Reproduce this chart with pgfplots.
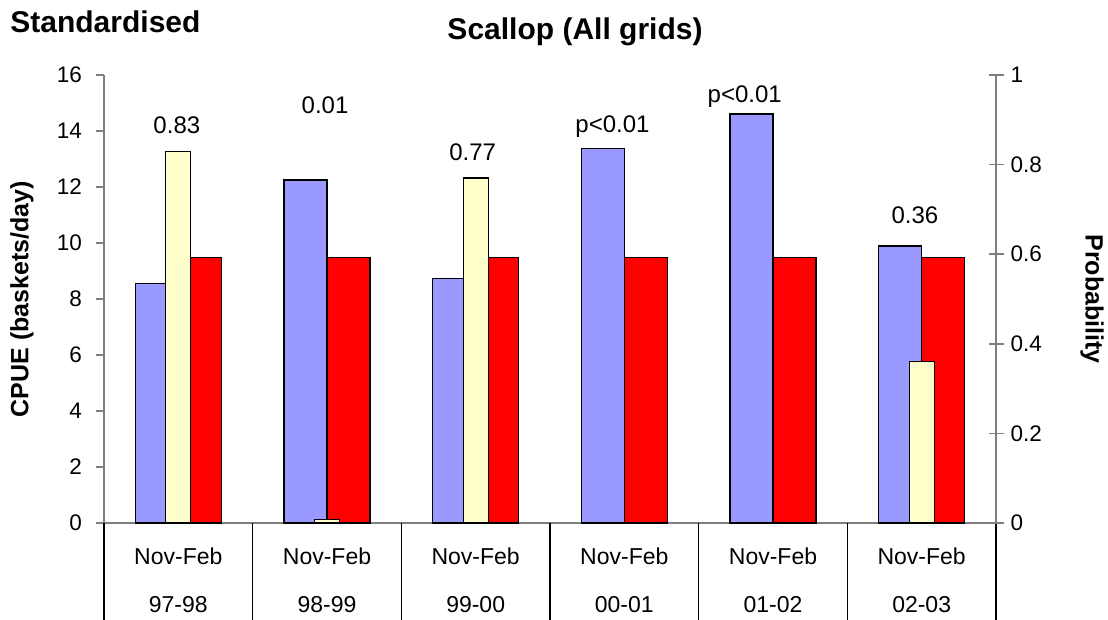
\documentclass[border=0pt]{standalone}
\usepackage{pgfplots}
\pgfplotsset{compat=1.18}
\usepackage{fontspec}
\setmainfont{Liberation Sans}

\definecolor{cpue}{HTML}{9999FF}
\definecolor{prob}{HTML}{FFFFCC}
\definecolor{refbar}{HTML}{FF0000}
\definecolor{axgray}{HTML}{7F7F7F}

\begin{document}
\begin{tikzpicture}
\path[use as bounding box] (-52pt,-48.5pt) rectangle (502pt,261.5pt);

\pgfplotsset{
  base/.style={
    scale only axis, width=446pt, height=224pt,
    xmin=0, xmax=6, clip=false,
    /pgf/number format/assume math mode=true,
    ticklabel style={font=\fontsize{11.25}{13}\selectfont},
    axis line style={draw=axgray, line width=0.8pt, -},
    ybar, bar shift=0pt,
    every axis plot/.append style={draw=black, line width=0.6pt},
  },
}

% left axis: CPUE
\begin{axis}[base,
  ymin=0, ymax=16, ytick={0,2,...,16},
  axis x line*=bottom, axis y line*=left,
  y tick style={draw=axgray, line width=0.8pt},
  tick align=outside, major tick length=4pt,
  yticklabel style={xshift=-3.5pt},
  xtick={0.5,1.5,2.5,3.5,4.5,5.5},
  xticklabels={{Nov-Feb\\97-98},{Nov-Feb\\98-99},{Nov-Feb\\99-00},{Nov-Feb\\00-01},{Nov-Feb\\01-02},{Nov-Feb\\02-03}},
  x tick style={draw=none},
  xticklabel style={align=center, yshift=-5pt, font=\fontsize{11.5}{24}\selectfont},
  extra x ticks={0,1,2,3,4,5,6},
  extra x tick labels={},
  extra x tick style={major tick length=48.5pt,
    x tick style={draw=black, line width=0.6pt}},
  every axis y label/.style={at={(axis description cs:-0.092,0.5)}, rotate=90, anchor=center,
    font=\bfseries\fontsize{12.5}{15}\selectfont},
  ylabel={CPUE (baskets/day)},
]
\addplot[fill=cpue, bar width=0.289] coordinates {
  (0.355,8.56) (1.355,12.25) (2.355,8.73) (3.355,13.38) (4.355,14.61) (5.355,9.89)
};
\addplot[fill=refbar, bar width=0.289] coordinates {
  (0.645,9.49) (1.645,9.49) (2.645,9.49) (3.645,9.49) (4.645,9.49) (5.645,9.49)
};
\begin{scope}[every node/.style={font=\fontsize{12}{14}\selectfont, anchor=center}]
\node at (axis cs:0.49,14.21) {0.83};
\node at (axis cs:1.487,14.93) {0.01};
\node at (axis cs:2.48,13.25) {0.77};
\node at (axis cs:3.42,14.15) {p<0.01};
\node at (axis cs:4.31,15.23) {p<0.01};
\node at (axis cs:5.455,11.0) {0.36};
\end{scope}
\end{axis}

% right axis: probability
\begin{axis}[base,
  ymin=0, ymax=1, ytick={0,0.2,0.4,0.6,0.8,1},
  axis x line=none, axis y line*=right,
  y tick style={draw=axgray, line width=0.8pt},
  tick align=center, major tick length=7.5pt,
  yticklabel style={xshift=0pt},
  every axis y label/.style={at={(axis description cs:1.1076,0.5)}, rotate=-90, anchor=center,
    font=\bfseries\fontsize{12.5}{15}\selectfont},
  ylabel={Probability},
]
\addplot[fill=prob, bar width=0.168] coordinates {
  (0.5,0.83) (1.5,0.007) (2.5,0.77) (5.5,0.36)
};
\end{axis}

\node[anchor=center, font=\bfseries\fontsize{15}{18}\selectfont] at (235.5pt,245.5pt) {Scallop (All grids)};
\node[anchor=west, inner sep=0pt, font=\bfseries\fontsize{15}{18}\selectfont] at (-47pt,250.5pt) {Standardised};
\end{tikzpicture}
\end{document}
